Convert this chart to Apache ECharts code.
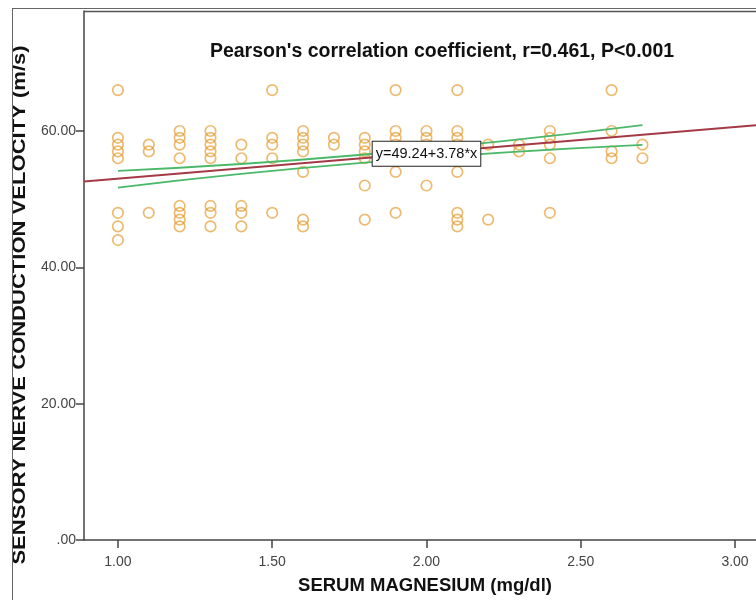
<!DOCTYPE html>
<html>
<head>
<meta charset="utf-8">
<script src="https://cdn.jsdelivr.net/npm/echarts@6/dist/echarts.min.js"></script>
<style>
  html, body { margin: 0; padding: 0; background: #fff; }
  #chart { width: 756px; height: 600px; }
</style>
</head>
<body>
<div id="chart"></div>
<script>
// ---- Data ----
const titleText = "Pearson's correlation coefficient, r=0.461, P<0.001";
const xAxisTitle = "SERUM MAGNESIUM (mg/dl)";
const yAxisTitle = "SENSORY NERVE CONDUCTION VELOCITY (m/s)";
const equationText = "y=49.24+3.78*x";

const xTicks = [1.0, 1.5, 2.0, 2.5, 3.0];
const yTicks = [0, 20, 40, 60];

// serum magnesium (x) and conduction velocity (y) of each patient
const magnesium = [
  1.0,1.0,1.0,1.0,1.0,1.0,1.0,1.0,
  1.1,1.1,1.1,
  1.2,1.2,1.2,1.2,1.2,1.2,1.2,1.2,
  1.3,1.3,1.3,1.3,1.3,1.3,1.3,1.3,
  1.4,1.4,1.4,1.4,1.4,
  1.5,1.5,1.5,1.5,1.5,
  1.6,1.6,1.6,1.6,1.6,1.6,1.6,
  1.7,1.7,
  1.8,1.8,1.8,1.8,1.8,1.8,
  1.9,1.9,1.9,1.9,1.9,1.9,1.9,
  2.0,2.0,2.0,2.0,2.0,
  2.1,2.1,2.1,2.1,2.1,2.1,2.1,2.1,2.1,
  2.2,2.2,
  2.3,2.3,
  2.4,2.4,2.4,2.4,2.4,
  2.6,2.6,2.6,2.6,
  2.7,2.7
];
const velocity = [
  66,59,58,57,56,48,46,44,
  58,57,48,
  60,59,58,56,49,48,47,46,
  60,59,58,57,56,49,48,46,
  58,56,49,48,46,
  66,59,58,56,48,
  60,59,58,57,54,47,46,
  59,58,
  59,58,57,56,52,47,
  66,60,59,58,57,54,48,
  60,59,58,57,52,
  66,60,59,58,57,54,48,47,46,
  58,47,
  58,57,
  60,59,58,56,48,
  66,60,57,56,
  58,56
];

// fit line end points and 95% band points
const fitX = [0.89, 3.068];
const fitY = [52.6, 60.84];
const bandX = [1.0, 1.8, 2.7];
const bandUpper = [54.15, 56.55, 60.85];
const bandLower = [51.7, 55.35, 57.95];
const equationAt = [2.0, 56.67];

// ---- Chart ----
const FONT = "'Liberation Sans', Arial, sans-serif";
const pts = magnesium.map((x, i) => [x, velocity[i]]);
const fit = fitX.map((x, i) => [x, fitY[i]]);
const up = bandX.map((x, i) => [x, bandUpper[i]]);
const lo = bandX.map((x, i) => [x, bandLower[i]]);

const chart = echarts.init(document.getElementById('chart'), null, { renderer: 'canvas' });
chart.setOption({
  animation: false,
  backgroundColor: '#fff',
  title: {
    text: titleText,
    left: 437, top: 37,
    textAlign: 'center',
    textStyle: { fontFamily: FONT, fontSize: 19.5, fontWeight: 'bold', color: '#111' }
  },
  grid: { left: 84, top: 11, right: 0, bottom: 55, containLabel: false },
  xAxis: {
    type: 'value',
    min: 0.89, max: 3.068,
    name: xAxisTitle,
    nameLocation: 'middle',
    nameGap: 36,
    nameTextStyle: { fontFamily: FONT, fontSize: 18.5, fontWeight: 'bold', color: '#111', padding: [0, 0, 0, 10] },
    splitLine: { show: false },
    axisLine: { show: true, onZero: false, lineStyle: { color: '#444', width: 1.5 } },
    axisTick: { show: true, customValues: xTicks, length: 8, inside: false, lineStyle: { color: '#444', width: 1.5 } },
    axisLabel: {
      customValues: xTicks,
      margin: 15,
      fontFamily: FONT, fontSize: 14, color: '#444',
      formatter: v => v.toFixed(2)
    }
  },
  yAxis: {
    type: 'value',
    min: 0, max: 77.6,
    splitLine: { show: false },
    axisLine: { show: true, onZero: false, lineStyle: { color: '#444', width: 1.5 } },
    axisTick: { show: true, customValues: yTicks, length: 8, inside: false, lineStyle: { color: '#444', width: 1.5 } },
    axisLabel: {
      customValues: yTicks,
      margin: 8,
      fontFamily: FONT, fontSize: 14, color: '#444',
      formatter: v => v === 0 ? '.00' : v.toFixed(2)
    }
  },
  graphic: [
    { type: 'line', shape: { x1: 12.5, y1: 8, x2: 12.5, y2: 600 }, style: { stroke: '#666', lineWidth: 1 }, z: 100 },
    { type: 'line', shape: { x1: 12, y1: 8.5, x2: 756, y2: 8.5 }, style: { stroke: '#666', lineWidth: 1 }, z: 100 },
    { type: 'line', shape: { x1: 84, y1: 11.5, x2: 756, y2: 11.5 }, style: { stroke: '#555', lineWidth: 1.5 }, z: 100 },
    {
      type: 'text', x: 20, y: 305, rotation: Math.PI / 2, scaleX: 1.16,
      style: {
        text: yAxisTitle, fontFamily: FONT, fontSize: 19, fontWeight: 'bold',
        fill: '#111', align: 'center', verticalAlign: 'middle'
      }
    }
  ],
  series: [
    {
      type: 'scatter',
      data: pts,
      symbol: 'circle',
      symbolSize: 10.5,
      itemStyle: { color: 'rgba(255,255,255,0)', borderColor: 'rgba(228,150,36,0.82)', borderWidth: 1.7 },
      z: 2
    },
    {
      type: 'line', data: up, smooth: true, symbol: 'none',
      lineStyle: { color: '#4cb86a', width: 1.8 }, z: 3
    },
    {
      type: 'line', data: lo, smooth: true, symbol: 'none',
      lineStyle: { color: '#4cb86a', width: 1.8 }, z: 3
    },
    {
      type: 'line', data: fit, symbol: 'none',
      lineStyle: { color: '#a33a46', width: 2 }, z: 4,
      markPoint: {
        symbol: 'circle', symbolSize: 0,
        data: [{ coord: equationAt }],
        label: {
          show: true, position: 'inside',
          formatter: equationText,
          fontFamily: FONT, fontSize: 14.5, color: '#111',
          backgroundColor: '#fff', borderColor: '#222', borderWidth: 1,
          padding: [5, 3, 4, 3]
        },
        z: 10
      }
    }
  ]
});
</script>
</body>
</html>
